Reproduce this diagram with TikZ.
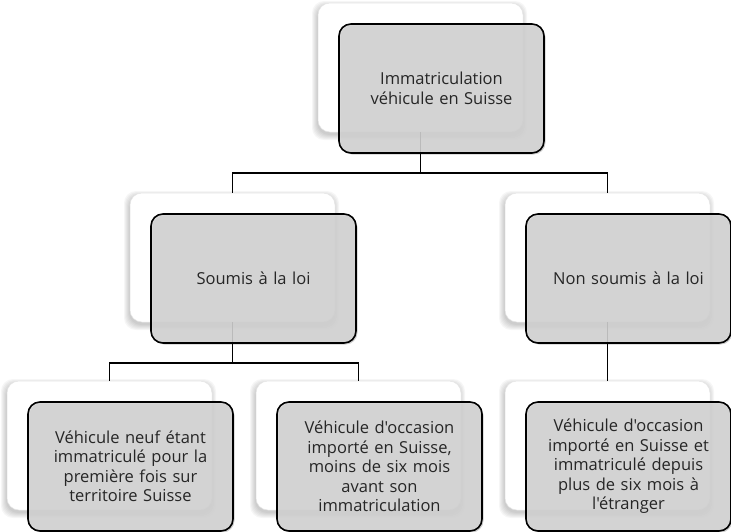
\documentclass[tikz,border=0pt]{standalone}
\usepackage{fontspec}
\setmainfont{Open Sans}[Ligatures=TeXOff]
\begin{document}
\begin{tikzpicture}[x=1pt,y=-1pt,
  whitebox/.style={draw=black!10, line width=0.5pt, fill=white, rounded corners=12pt,
    minimum width=205pt, minimum height=129pt, inner sep=0pt},
  graybox/.style={draw=black, line width=1.6pt, fill=black!17, fill opacity=0.88, text opacity=1,
    rounded corners=12pt, minimum width=205pt, minimum height=129pt, inner sep=0pt,
    align=center, text width=195pt, text=black!85,
    font=\fontsize{16.5pt}{19.5pt}\selectfont},
  link/.style={line width=1.6pt, black}]
\useasboundingbox (0,0) rectangle (731,531);

% soft shadows under the white cards
\foreach \cx/\cy in {420.5/67.5, 232.5/257.5, 607.5/257.5, 109.5/445.5, 358.5/445.5, 607.5/445.5}{
  \foreach \k in {0,...,5}
    \fill[black, opacity=0.035, rounded corners=12pt]
      (\cx-102.5-\k-1, \cy-64.5-\k+3) rectangle ++(205+2*\k, 129+2*\k);
}

% white back cards
\node[whitebox] (w0) at (420.5,67.5) {};
\node[whitebox] (w1) at (232.5,257.5) {};
\node[whitebox] (w2) at (607.5,257.5) {};
\node[whitebox] (w3) at (109.5,445.5) {};
\node[whitebox] (w4) at (358.5,445.5) {};
\node[whitebox] (w5) at (607.5,445.5) {};

% connectors
\path (w1.north) ++(0,-20) coordinate (bus0);
\path (w3.north) ++(0,-18) coordinate (bus1);
\draw[link] (w0.south) -- (w0.south |- bus0);
\draw[link] (w1.north) -- (w1.north |- bus0) -| (w2.north);
\draw[link] (w1.south) -- (w1.south |- bus1);
\draw[link] (w3.north) -- (w3.north |- bus1) -| (w4.north);
\draw[link] (w2.south) -- (w5.north);

% small shadows under the grey cards
\foreach \cx/\cy in {441.5/88.5, 253.5/278.5, 628.5/278.5, 130.5/466.5, 379.5/466.5, 628.5/466.5}{
  \fill[black, opacity=0.2, rounded corners=12pt]
    (\cx-102.5+1.5, \cy-64.5+1.5) rectangle ++(205, 129);
}

% grey front cards
\node[graybox] (g0) at (441.5,88.5) {Immatriculation\\véhicule en Suisse};
\node[graybox] (g1) at (253.5,278.5) {Soumis à la loi};
\node[graybox] (g2) at (628.5,278.5) {Non soumis à la loi};
\node[graybox] (g3) at (130.5,466.5) {Véhicule neuf étant\\immatriculé pour la\\première fois sur\\territoire Suisse};
\node[graybox] (g4) at (379.5,466.5) {Véhicule d'occasion\\importé en Suisse,\\moins de six mois\\avant son\\immatriculation};
\node[graybox] (g5) at (628.5,466.5) {Véhicule d'occasion\\importé en Suisse et\\immatriculé depuis\\plus de six mois à\\l'étranger};
\end{tikzpicture}
\end{document}
